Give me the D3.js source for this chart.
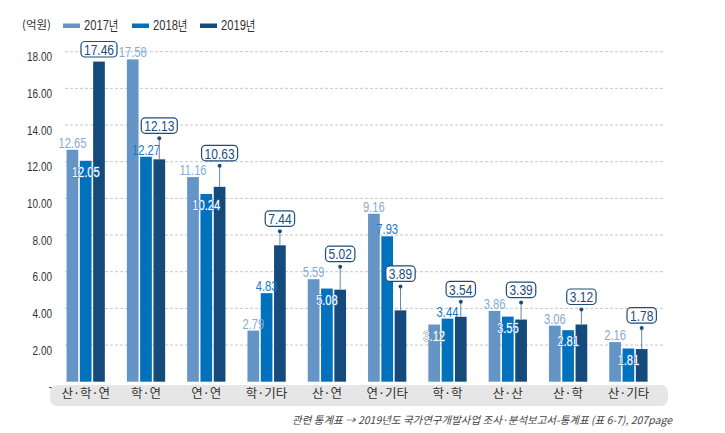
<!DOCTYPE html>
<html><head><meta charset="utf-8">
<script src="https://cdn.jsdelivr.net/npm/d3@7/dist/d3.min.js"></script>
<style>
html,body{margin:0;padding:0;background:#fff;}
svg{display:block;}
</style></head>
<body>
<svg id="chart" width="725" height="433"></svg>
<script>
// ---- data ----
const categories = ["산·학·연","학·연","연·연","학·기타","산·연","연·기타","학·학","산·산","산·학","산·기타"];
const seriesNames = ["2017년","2018년","2019년"];
const values2017 = [12.65,17.58,11.16,2.79,5.59,9.16,3.12,3.86,3.06,2.16];
const values2018 = [12.05,12.27,10.24,4.83,5.08,7.93,3.44,3.55,2.81,1.81];
const values2019 = [17.46,12.13,10.63,7.44,5.02,3.89,3.54,3.39,3.12,1.78];
const yTicks = [0,2,4,6,8,10,12,14,16,18];
const yTickLabels = ["-","2.00","4.00","6.00","8.00","10.00","12.00","14.00","16.00","18.00"];
// label placement for 2017/2018 values: "out" = above bar, "in" = inside bar
const place2017 = ["out","out","out","out","out","out","in","out","out","out"];
const place2018 = ["in","out","in","out","in","out","out","in","in","in"];
// callout leader length (px) for 2019 boxes
const leader2019 = [0,21,21,14,23,24,15,17,15,21];

const colors = ["#6595c6","#0071bc","#144b7c"];
const labelColors = ["#86abd5","#1b78c2","#1d4d7d"];
const numFont = "'Liberation Sans',Arial,sans-serif";
const krFont = "'Noto Sans CJK KR','Noto Sans',sans-serif";
const SX = 0.8; // horizontal condensing of numeric text

const svg = d3.select("#chart");
const y = d3.scaleLinear().domain([0,18]).range([381.7,51.7]);
const x0 = d3.scaleBand().domain(categories).range([55.55,658.55]).paddingInner(0.365).paddingOuter(0.1825);
const x1 = d3.scaleBand().domain(seriesNames).range([0,x0.bandwidth()]).paddingInner(0.12).paddingOuter(0);

// grid
const grid = svg.append("g");
grid.selectAll("line").data(yTicks.filter(d=>d>0)).join("line")
  .attr("x1",65).attr("x2",665)
  .attr("y1",d=>y(d)).attr("y2",d=>y(d))
  .attr("stroke","#c8c8c8").attr("stroke-width",1).attr("stroke-dasharray","3,2");

// y axis labels
const yAxis = d3.axisLeft(y).tickValues(yTicks).tickFormat((d,i)=>yTickLabels[i]).tickSize(0).tickPadding(0);
const ya = svg.append("g").attr("transform","translate(52,0)").call(yAxis);
ya.select(".domain").remove();
ya.selectAll("text").attr("font-family",numFont).attr("font-size",12.5).attr("fill","#333").attr("dy","0.72em")
  .attr("text-anchor","end").attr("transform",`scale(${SX},1)`);

// category band
svg.append("rect").attr("x",50).attr("y",385).attr("width",618).attr("height",21).attr("rx",7)
  .attr("fill","#e6e6e6");
const xa = d3.axisBottom(x0).tickSize(0).tickPadding(0);
const xg = svg.append("g").attr("transform","translate(0,389)").call(xa);
xg.select(".domain").remove();
xg.selectAll("text").attr("font-family",krFont).attr("font-size",12.5).attr("fill","#333").attr("dy","0.72em");

// bars
const seriesVals = [values2017,values2018,values2019];
const groups = svg.append("g").selectAll("g").data(categories).join("g")
  .attr("transform",d=>`translate(${x0(d)},0)`);
groups.selectAll("rect").data((c,i)=>seriesNames.map((s,k)=>({s,k,v:seriesVals[k][i]}))).join("rect")
  .attr("x",d=>x1(d.s)).attr("width",x1.bandwidth())
  .attr("y",d=>y(d.v)).attr("height",d=>y(0)-y(d.v))
  .attr("fill",d=>colors[d.k]);

// 2017 & 2018 labels
[[values2017,place2017,0],[values2018,place2018,1]].forEach(([vals,pl,k])=>{
  svg.append("g").selectAll("text").data(categories).join("text")
    .attr("transform",(c,i)=>{
      const cx = x0(c)+x1(seriesNames[k])+x1.bandwidth()/2;
      const cy = pl[i]==="out" ? y(vals[i])-7 : y(vals[i])+11;
      return `translate(${cx},${cy}) scale(${SX},1)`;
    })
    .attr("dy","0.36em")
    .attr("text-anchor","middle")
    .attr("font-family",numFont).attr("font-size",14)
    .attr("fill",(c,i)=>pl[i]==="out"?labelColors[k]:"#fff")
    .attr("stroke",(c,i)=>pl[i]==="out"?"none":(k===0?"#7fa0c8":"#3f85c8"))
    .attr("stroke-width",1.2).attr("paint-order","stroke")
    .text((c,i)=>vals[i].toFixed(2));
});

// 2019 callouts
const cg = svg.append("g");
categories.forEach((c,i)=>{
  const v = values2019[i];
  const cx = x0(c)+x1(seriesNames[2])+x1.bandwidth()/2;
  const top = y(v);
  let boxBottom;
  if(leader2019[i]>0){
    const dotY = top-leader2019[i];
    cg.append("line").attr("x1",cx).attr("x2",cx).attr("y1",dotY).attr("y2",top)
      .attr("stroke","#6b86a3").attr("stroke-width",1);
    cg.append("circle").attr("cx",cx).attr("cy",dotY).attr("r",2).attr("fill","#1d4d7d");
    boxBottom = dotY-5;
  } else {
    boxBottom = top-4.6;
  }
  const h = 15.5;
  const t = cg.append("text").attr("transform",`translate(${cx},${boxBottom-h/2}) scale(${SX},1)`).attr("dy","0.37em")
    .attr("text-anchor","middle").attr("font-family",numFont).attr("font-size",15)
    .attr("fill","#1d4d7d").text(v.toFixed(2));
  const w = t.node().getComputedTextLength()*SX+6;
  cg.insert("rect","text").attr("x",cx-w/2).attr("y",boxBottom-h).attr("width",w).attr("height",h)
    .attr("rx",4).attr("fill","#fff").attr("stroke","#1d4d7d").attr("stroke-width",1.2);
});
cg.selectAll("text").raise();

// legend
svg.append("text").attr("x",22).attr("y",25).attr("dy","0.35em").attr("font-family",krFont)
  .attr("font-size",11.5).attr("fill","#333").text("(억원)");
const legX = [63,132,200];
const lg = svg.append("g").selectAll("g").data(seriesNames).join("g")
  .attr("transform",(d,i)=>`translate(${legX[i]},0)`);
lg.append("rect").attr("x",0).attr("y",23.5).attr("width",17).attr("height",4.5).attr("fill",(d,i)=>colors[i]);
lg.append("text").attr("transform",`translate(21,25.5) scale(${SX},1)`).attr("dy","0.35em").attr("font-family",numFont)
  .attr("font-size",14).attr("fill","#333").text(d=>d.replace("년",""))
  .append("tspan").attr("font-family",krFont).attr("font-size",13).text("년");

// footer
svg.append("text").attr("x",672).attr("y",424).attr("text-anchor","end")
  .attr("font-family",krFont).attr("font-size",10.5).attr("font-style","italic").attr("fill","#444")
  .text("관련 통계표 → 2019년도 국가연구개발사업 조사·분석보고서-통계표 (표 6-7), 207page");
</script>
</body></html>
